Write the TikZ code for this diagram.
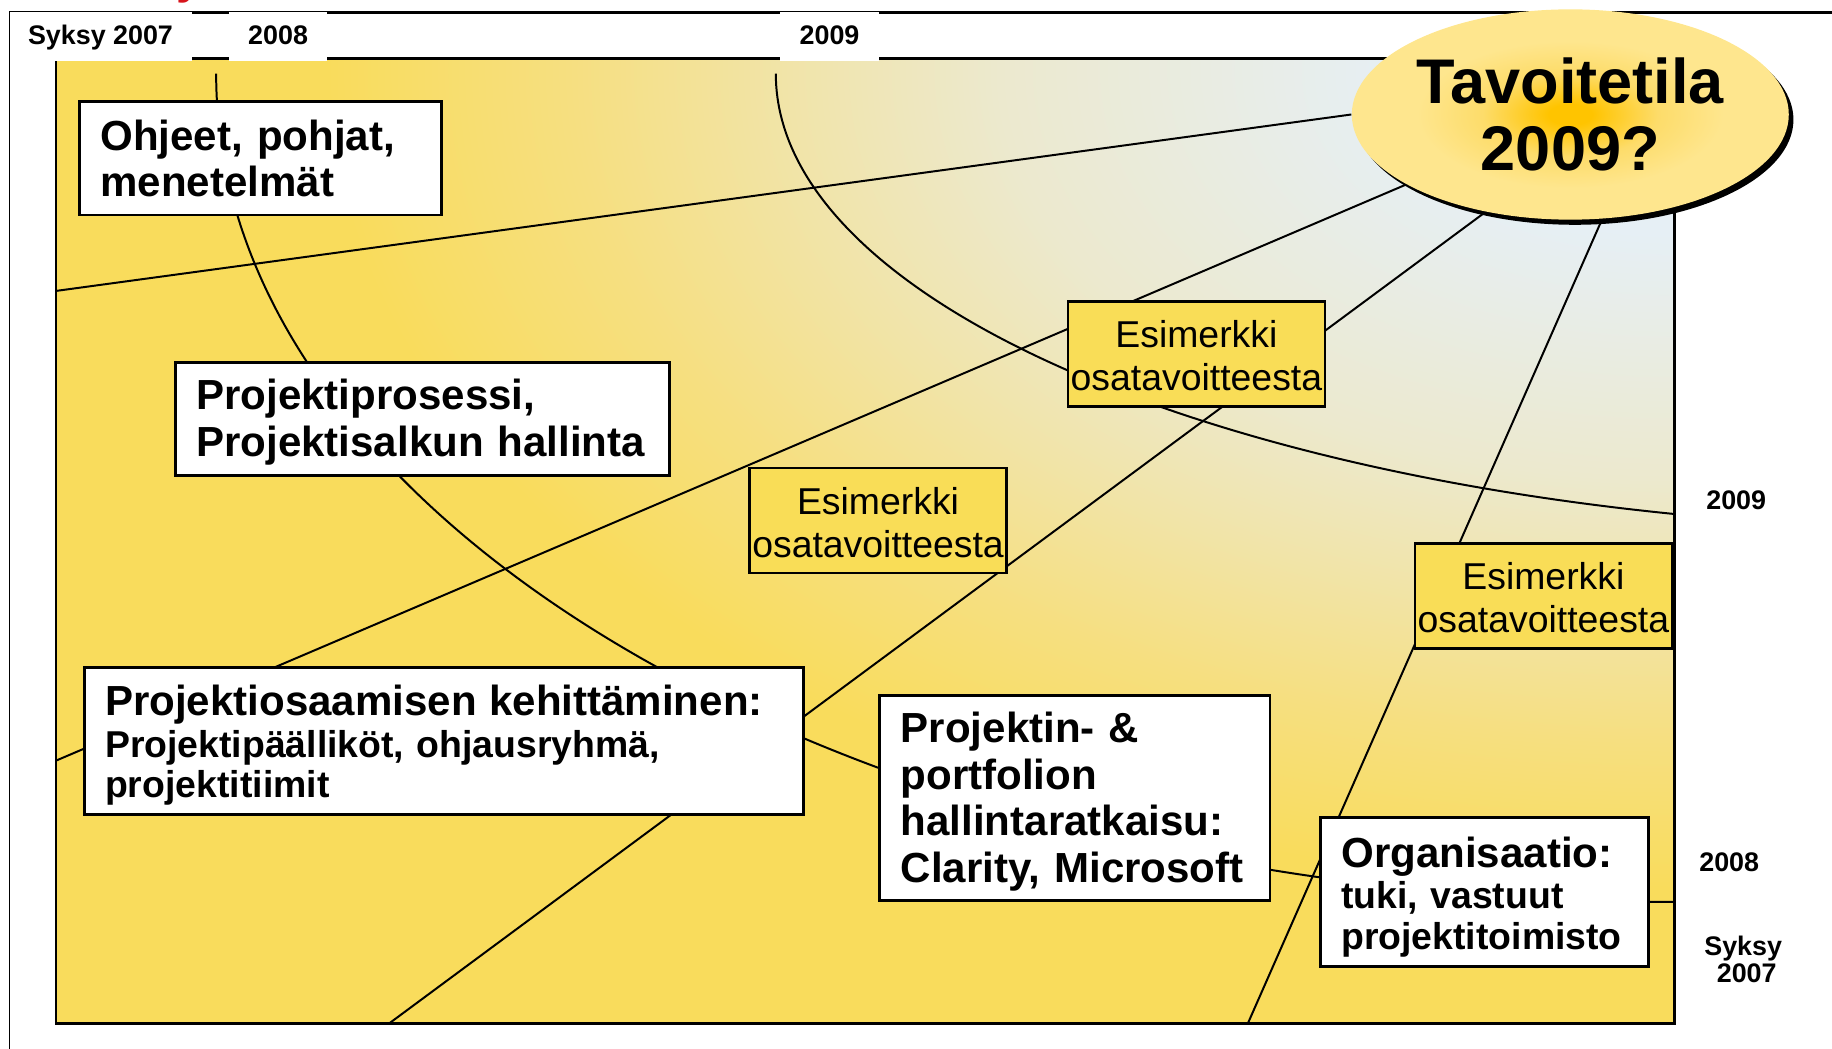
\documentclass[tikz,border=0pt]{standalone}
\usepackage{fontspec}
\setmainfont{Liberation Sans}
\usetikzlibrary{shapes.geometric,shadows}
\definecolor{yel}{HTML}{F9DC5C}
\definecolor{yel2}{HTML}{F6DF80}
\definecolor{beige2}{HTML}{F1E4A8}
\definecolor{beigec}{HTML}{ECE9CE}
\definecolor{skyb}{HTML}{E6EFF5}
\definecolor{boxyel}{HTML}{F9DD57}
\definecolor{gold1}{HTML}{FFC400}
\definecolor{gold2}{HTML}{FDDC6A}
\definecolor{gold3}{HTML}{FEE68E}
\definecolor{titlered}{HTML}{D7141C}
\pgfdeclareradialshading{bgglow}{\pgfpoint{0bp}{0bp}}{color(0bp)=(skyb); color(5bp)=(skyb); color(12.5bp)=(beigec); color(16.5bp)=(beige2); color(20.5bp)=(yel2); color(25bp)=(yel); color(50bp)=(yel)}
\pgfdeclareradialshading{goalglow}{\pgfpoint{0bp}{0bp}}{color(0bp)=(gold1); color(2.5bp)=(gold1); color(10bp)=(gold2); color(17.5bp)=(gold3); color(50bp)=(gold3)}
\pgfdeclarelayer{bg}
\pgfdeclarelayer{lines}
\pgfsetlayers{bg,lines,main}
\newcommand{\tlift}[1]{\rule{0pt}{#1}}
\tikzset{
  whitebox/.style={draw, line width=1.2pt, fill=white, rectangle, inner xsep=9pt, inner ysep=0pt, align=left},
  subgoal/.style={draw, line width=1.2pt, fill=boxyel, rectangle, inner sep=1pt, minimum width=110pt, minimum height=45pt, align=center, font=\fontsize{16}{18.5}\selectfont},
  goalstyle/.style={ellipse, shade, shading=goalglow, minimum width=187pt, minimum height=90pt, inner sep=0pt, align=center, font=\fontsize{27}{28.5}\selectfont\bfseries, drop shadow={shadow xshift=2pt, shadow yshift=-2.2pt, fill=black, opacity=1}},
  axislab/.style={font=\fontsize{11.5}{11.5}\selectfont\bfseries, inner sep=0pt, anchor=base},
  tline/.style={line width=0.85pt}
}
\begin{document}
\begin{tikzpicture}[x=0.5pt,y=-0.5pt]
\useasboundingbox (0,0) rectangle (1568,897.8);

% goal ellipse
\node[goalstyle] (goal) at (1344,98) {Tavoitetila\\2009?};

% white boxes
\node[whitebox, text width=137pt, minimum height=48.5pt, font=\fontsize{18}{19.5}\selectfont\bfseries] (ohjeet) at (223,135.5) {Ohjeet,~pohjat,\\menetelmät};
\node[whitebox, text width=193.5pt, minimum height=48.5pt, font=\fontsize{18}{20}\selectfont\bfseries] (prosessi) at (361.5,358.5) {\tlift{15.6pt}Projektiprosessi,\\Projektisalkun~hallinta};
\node[whitebox, text width=290pt, minimum height=63pt, font=\fontsize{16}{17.25}\selectfont\bfseries] (osaaminen) at (380,634) {{\fontsize{18}{20}\selectfont\tlift{17.1pt}Projektiosaamisen~kehittäminen:}\\[0.5pt]Projektipäälliköt,~ohjausryhmä,\\projektitiimit};
\node[whitebox, text width=149pt, minimum height=88pt, font=\fontsize{18}{20}\selectfont\bfseries] (ratkaisu) at (920,683) {\tlift{16.1pt}Projektin-~\&\\portfolion\\hallintaratkaisu:\\Clarity,~Microsoft};
\node[whitebox, text width=122.5pt, minimum height=63.5pt, font=\fontsize{16}{17.5}\selectfont\bfseries] (organisaatio) at (1270.5,763.5) {{\fontsize{18}{20}\selectfont\tlift{17.6pt}Organisaatio:}\\tuki,~vastuut\\projektitoimisto};

% yellow sub-goal boxes
\node[subgoal] (esA) at (1024,303) {\tlift{13.2pt}Esimerkki\\osatavoitteesta};
\node[subgoal] (esB) at (751.5,445.5) {\tlift{13.2pt}Esimerkki\\osatavoitteesta};
\node[subgoal] (esC) at (1321,510) {\tlift{13.2pt}Esimerkki\\osatavoitteesta};

% header label masks and labels
\fill[white] (8.6,10.45) rectangle (164,51.8);
\fill[white] (196,10.45) rectangle (280,51.8);
\fill[white] (668,10.45) rectangle (752,51.8);
\node[axislab] (tSyksy) at (86,38.5) {Syksy 2007};
\node[axislab] (t2008) at (238,38.5) {2008};
\node[axislab] (t2009) at (710,38.5) {2009};
\node[axislab] (r2009) at (1486,436) {2009};
\node[axislab] (r2008) at (1480,746) {2008};
\node[axislab] (rSyksy) at (1492,818) {Syksy};
\node[axislab] (r2007) at (1495,841) {2007};

% cut-off red title fragment
\node[font=\fontsize{20}{20}\selectfont\bfseries, text=titlered, anchor=base, inner sep=0pt] (titlefrag) at (162,-5.5) {y};

% background
\begin{pgfonlayer}{bg}
\draw[line width=0.6pt] (8,897.8) -- (8,10) -- (1568,10);
\draw[line width=0.9pt] (8,10.9) -- (1568,10.9);
\fill[yel] (48,50) rectangle (1433,876);
\begin{scope}
\clip (48,50) rectangle (1433,876);
\shade[shading=bgglow] (1430,60) ellipse [x radius=575pt, y radius=350pt];
\end{scope}
\draw[line width=1.2pt] (48,50) rectangle (1433,876);
\end{pgfonlayer}

% timeline lines
\begin{pgfonlayer}{lines}
\coordinate (a1) at (48,249);
\coordinate (a2s) at (185,63);
\coordinate (a2e) at (1433,772);
\coordinate (a3s) at (664,63);
\coordinate (a3e) at (1700,453);
\coordinate (a4) at (48,651);
\coordinate (a5) at (333,876);
\coordinate (a6) at (1068,876);
\draw[tline] (a1) -- (goal.west);
\draw[tline] (a2s) .. controls (185,454.6) and (743.7,772) .. (a2e);
\begin{scope}
\clip (48,50) rectangle (1433,876);
\draw[tline] (a3s) .. controls (664,278.4) and (1127.8,453) .. (a3e);
\end{scope}
\draw[tline] (a4) -- (goal);
\draw[tline] (a5) -- (goal.229);
\draw[tline] (a6) -- (goal.287);
\end{pgfonlayer}
\end{tikzpicture}
\end{document}
